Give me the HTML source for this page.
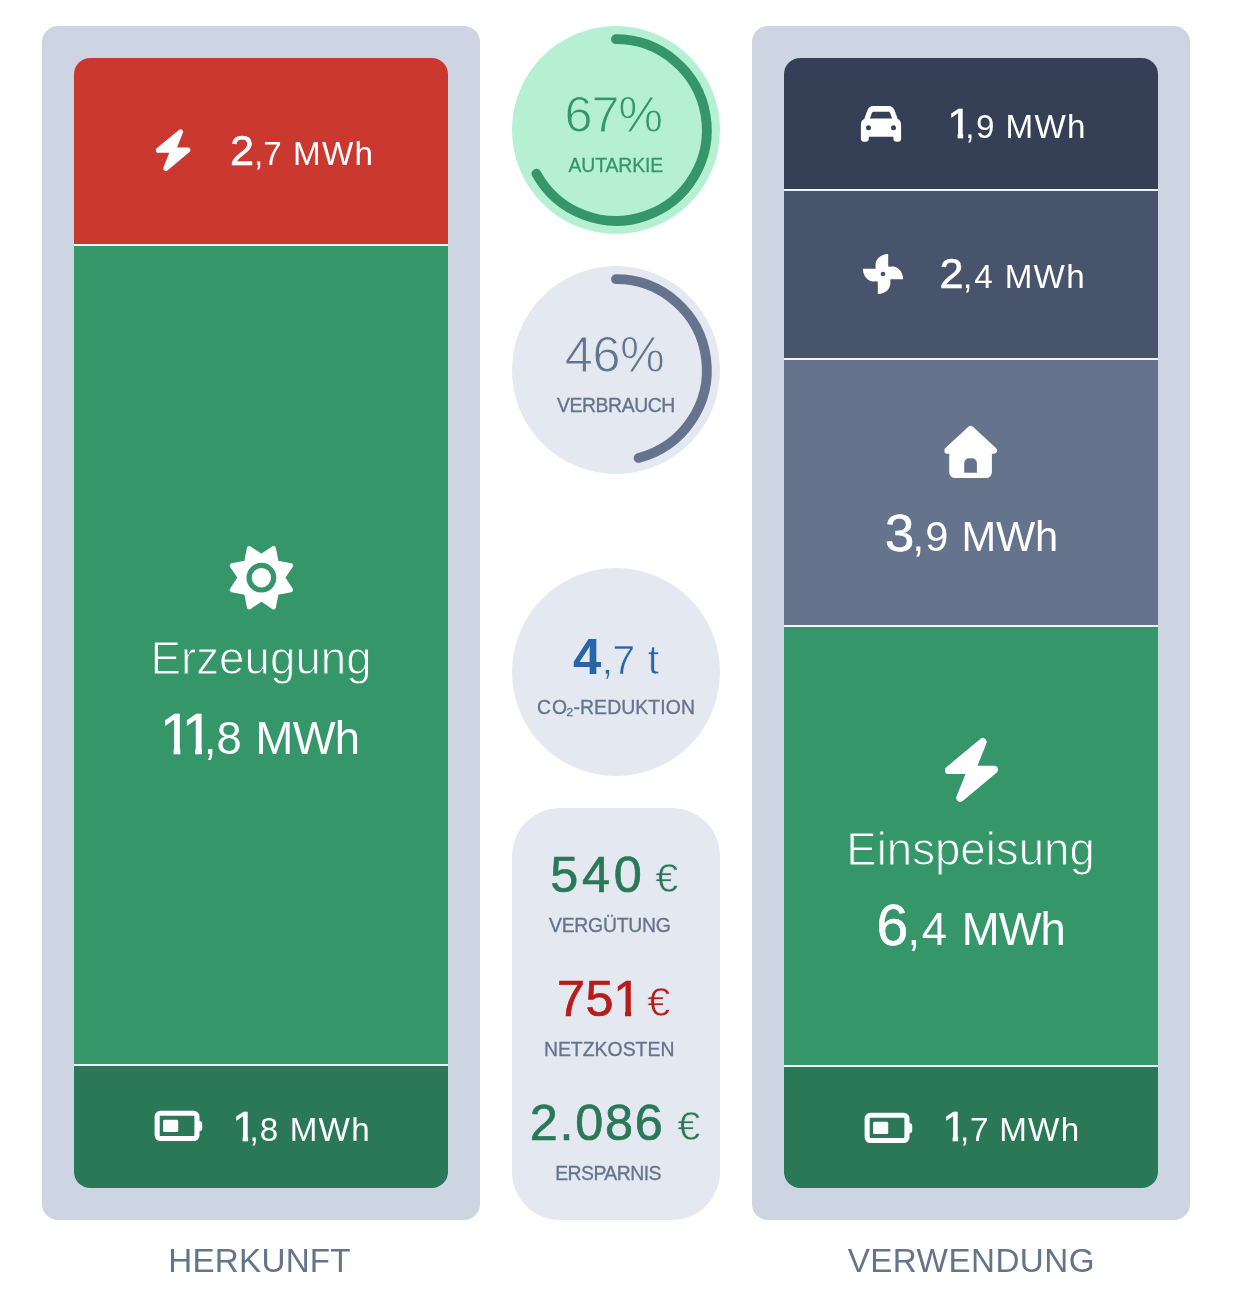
<!DOCTYPE html>
<html lang="de"><head><meta charset="utf-8"><title>Bilanz</title>
<style>
html,body{margin:0;padding:0;background:#fff}
body{position:relative;width:1236px;height:1302px;overflow:hidden;font-family:"Liberation Sans",sans-serif}
.panel,.bar,.seg,.circle,.box,.t,svg.ov{position:absolute}
.panel{background:#cdd5e3;border-radius:16px}
.bar{background:#f1f5fb;border-radius:16px;overflow:hidden}
.circle{border-radius:50%}
.t{line-height:1;white-space:pre;font-weight:400}
.big{-webkit-text-stroke:0.6px currentColor}.med{-webkit-text-stroke:0.7px currentColor}.cap{-webkit-text-stroke:0.3px currentColor}
.tg{-webkit-text-stroke:1px #359769}.tm{-webkit-text-stroke:1px #b5f0d3}.ts{-webkit-text-stroke:1px #e3e8f1}.tb{-webkit-text-stroke:0.6px #e3e8f1}.te{-webkit-text-stroke:0.7px #e3e8f1}
</style></head><body>
<div class="panel" style="left:42px;top:26px;width:438px;height:1194px"></div>
<div class="bar" style="left:74px;top:58px;width:374px;height:1130px">
<div class="seg" style="left:0px;top:0px;width:374px;height:186px;background:#cb3830;"></div>
<div class="seg" style="left:0px;top:188px;width:374px;height:818px;background:#359769;"></div>
<div class="seg" style="left:0px;top:1008px;width:374px;height:122px;background:#2b7858;"></div>
</div>
<div class="panel" style="left:752px;top:26px;width:438px;height:1194px"></div>
<div class="bar" style="left:784px;top:58px;width:374px;height:1130px">
<div class="seg" style="left:0px;top:0px;width:374px;height:131px;background:#354057;"></div>
<div class="seg" style="left:0px;top:133px;width:374px;height:167px;background:#48546c;"></div>
<div class="seg" style="left:0px;top:302px;width:374px;height:265px;background:#65738d;"></div>
<div class="seg" style="left:0px;top:569px;width:374px;height:438px;background:#359769;"></div>
<div class="seg" style="left:0px;top:1009px;width:374px;height:121px;background:#2b7858;"></div>
</div>
<div class="circle" style="left:512px;top:26px;width:208px;height:208px;background:#b5f0d3"></div>
<div class="circle" style="left:512px;top:266px;width:208px;height:208px;background:#e3e8f1"></div>
<div class="circle" style="left:512px;top:568px;width:208px;height:208px;background:#e3e8f1"></div>
<div class="box" style="left:512px;top:808px;width:208px;height:412px;border-radius:48px;background:#e3e8f1"></div>
<svg class="ov" style="left:0;top:0" width="1236" height="1302" viewBox="0 0 1236 1302" aria-hidden="true">
<path d="M616,39.2 A90.8,90.8 0 1 1 536.43,173.74" fill="none" stroke="#359769" stroke-width="9.8" stroke-linecap="round"/>
<path d="M616,279.2 A90.8,90.8 0 0 1 638.58,457.95" fill="none" stroke="#65738d" stroke-width="9.8" stroke-linecap="round"/>
<path d="M180.53,131.87 L173.28,150.02 L187.91,150.02 L165.77,168.43 L173.02,150.28 L158.39,150.28Z" fill="#fff" stroke="#fff" stroke-width="5.09" stroke-linejoin="round"/>
<path d="M290.65,589.82 L282.51,577.7 L290.65,565.58 L276.33,562.77 L273.52,548.45 L261.4,556.59 L249.28,548.45 L246.47,562.77 L232.15,565.58 L240.29,577.7 L232.15,589.82 L246.47,592.63 L249.28,606.95 L261.4,598.81 L273.52,606.95 L276.33,592.63Z" fill="#fff" stroke="#fff" stroke-width="4.8" stroke-linejoin="round"/><circle cx="261.4" cy="577.7" r="12.3" fill="none" stroke="#359769" stroke-width="5.2"/>
<rect x="157.15" y="1113.25" width="39.8" height="25.3" rx="3.2" fill="none" stroke="#fff" stroke-width="5.1"/><rect x="163" y="1119.8" width="15.2" height="12.3" rx="1.6" fill="#fff"/><path d="M198.6,1121h0.9a2.7,2.7 0 0 1 2.7,2.7v4.9a2.7,2.7 0 0 1 -2.7,2.7h-0.9z" fill="#fff"/>
<path d="M860.9,138.6 V124.6 C860.9,121.6 862.3,119.8 864.3,118.9 L867.3,110.6 C868.4,107.6 870.4,106.1 873.4,106.1 H888.6 C891.6,106.1 893.6,107.6 894.7,110.6 L897.7,118.9 C899.7,119.8 901.1,121.6 901.1,124.6 V138.6 a3.2,3.2 0 0 1 -3.2,3.2 h-1.3 a3.2,3.2 0 0 1 -3.2,-3.2 V136.7 H868.8 V138.6 a3.2,3.2 0 0 1 -3.2,3.2 h-1.5 a3.2,3.2 0 0 1 -3.2,-3.2Z" fill="#fff"/><path d="M869.9,118.6 L871.8,113.3 C872.2,112.3 872.8,111.8 873.8,111.8 H888.2 C889.2,111.8 889.8,112.3 890.2,113.3 L892.1,118.6Z" fill="#354057"/><circle cx="868.5" cy="127.7" r="2.5" fill="#354057"/><circle cx="893.5" cy="127.7" r="2.5" fill="#354057"/>
<g transform="translate(883,274)" fill="#fff"><path transform="rotate(0)" d="M5.2,-20.1 A12.7,11.04 0 0 0 -6.78,-5.4 L-6.78,7.4 L5.2,7.4Z"/><path transform="rotate(90)" d="M5.2,-20.1 A12.7,11.04 0 0 0 -6.78,-5.4 L-6.78,7.4 L5.2,7.4Z"/><path transform="rotate(180)" d="M5.2,-20.1 A12.7,11.04 0 0 0 -6.78,-5.4 L-6.78,7.4 L5.2,7.4Z"/><path transform="rotate(270)" d="M5.2,-20.1 A12.7,11.04 0 0 0 -6.78,-5.4 L-6.78,7.4 L5.2,7.4Z"/><circle r="2.3" fill="#48546c"/></g>
<path d="M947.7,450.4 L970.65,429.2 L993.6,450.4Z" fill="#fff" stroke="#fff" stroke-width="6.8" stroke-linejoin="round"/><path d="M949.2,446 H991.9 V472.3 a5.8,5.8 0 0 1 -5.8,5.8 H955 a5.8,5.8 0 0 1 -5.8,-5.8Z" fill="#fff"/><path d="M964.2,472.8 V463.3 a5,5 0 0 1 5,-5 h2.7 a5,5 0 0 1 5,5 V472.8Z" fill="#65738d"/>
<path d="M982.75,741.95 L971.65,769.75 L994.05,769.75 L960.15,797.95 L971.25,770.15 L948.85,770.15Z" fill="#fff" stroke="#fff" stroke-width="7.8" stroke-linejoin="round"/>
<rect x="867.15" y="1115.25" width="39.8" height="25.3" rx="3.2" fill="none" stroke="#fff" stroke-width="5.1"/><rect x="873" y="1121.8" width="15.2" height="12.3" rx="1.6" fill="#fff"/><path d="M908.6,1123h0.9a2.7,2.7 0 0 1 2.7,2.7v4.9a2.7,2.7 0 0 1 -2.7,2.7h-0.9z" fill="#fff"/>
</svg>
<section class="grp" id="herkunft">
<div class="ln"><span class="t big" style="left:230.06px;top:128.50px;font-size:43.3px;color:#fff;">2</span><span class="t sm" style="left:253.91px;top:136.50px;font-size:33.2px;color:#fff;letter-spacing:0.06px;">,7 </span><span class="t sm" style="left:293.08px;top:136.50px;font-size:33.2px;color:#fff;letter-spacing:1.21px;">MWh</span></div>
<div class="ln"><span class="t lt tg" style="left:150.46px;top:635.50px;font-size:45.6px;color:#fff;letter-spacing:0.08px;">Erzeugung</span></div>
<div class="ln"><span class="t big one" style="left:160.09px;top:706.20px;font-size:57.1px;color:#fff;clip-path:polygon(-2px -6px,20.26px -6px,20.26px 52.00px,13.51px 52.00px,13.51px 42.33px,-2px 42.33px);">1</span><span class="t big one" style="left:181.69px;top:706.20px;font-size:57.1px;color:#fff;clip-path:polygon(-2px -6px,20.26px -6px,20.26px 52.00px,13.51px 52.00px,13.51px 42.33px,-2px 42.33px);">1</span><span class="t sm" style="left:203.76px;top:716.20px;font-size:45.4px;color:#fff;letter-spacing:0.24px;">,8 </span><span class="t sm" style="left:255.58px;top:716.20px;font-size:45.4px;color:#fff;letter-spacing:-0.71px;">MWh</span></div>
<div class="ln"><span class="t big one" style="left:232.58px;top:1104.80px;font-size:43.3px;color:#fff;clip-path:polygon(-2px -6px,15.57px -6px,15.57px 40.00px,10.04px 40.00px,10.04px 31.37px,-2px 31.37px);">1</span><span class="t sm" style="left:249.41px;top:1112.80px;font-size:33.2px;color:#fff;letter-spacing:1.08px;">,8 </span><span class="t sm" style="left:289.78px;top:1112.80px;font-size:33.2px;color:#fff;letter-spacing:1.21px;">MWh</span></div>
<div class="ln"><span class="t lab" style="left:168.28px;top:1243.70px;font-size:33.2px;color:#64748b;letter-spacing:0.24px;">HERKUNFT</span></div>
</section>
<section class="grp" id="kennzahlen">
<div class="ln"><span class="t lt tm" style="left:564.62px;top:90.00px;font-size:50.4px;color:#359769;letter-spacing:-1.15px;">67%</span></div>
<div class="ln"><span class="t cap" style="left:568.55px;top:155.70px;font-size:19.4px;color:#359769;letter-spacing:-0.13px;">AUTARKIE</span></div>
<div class="ln"><span class="t lt ts" style="left:564.82px;top:330.00px;font-size:50.4px;color:#64748b;letter-spacing:-0.40px;">46%</span></div>
<div class="ln"><span class="t cap" style="left:556.91px;top:395.70px;font-size:19.4px;color:#64748b;letter-spacing:-0.41px;">VERBRAUCH</span></div>
<div class="ln"><span class="t bold" style="left:573.04px;top:632.20px;font-size:50.8px;color:#2565a8;font-weight:700;">4</span><span class="t sm tb" style="left:601.74px;top:640.20px;font-size:40.6px;color:#2565a8;letter-spacing:-0.50px;">,7 </span><span class="t sm tb" style="left:647.75px;top:640.20px;font-size:40.6px;color:#2565a8;">t</span></div>
<div class="ln"><span class="t cap" style="left:536.96px;top:697.90px;font-size:19.4px;color:#64748b;letter-spacing:0.93px;">CO</span><span class="t cap" style="left:566.00px;top:697.90px;font-size:19.4px;color:#64748b;">₂</span><span class="t cap" style="left:573.44px;top:697.90px;font-size:19.4px;color:#64748b;letter-spacing:0.10px;">-REDUKTION</span></div>
<div class="ln"><span class="t med" style="left:550.18px;top:850.00px;font-size:50.4px;color:#2b7858;letter-spacing:3.74px;">540 </span><span class="t lt te" style="left:655.34px;top:857.00px;font-size:41.5px;color:#2b7858;">€</span></div>
<div class="ln"><span class="t cap" style="left:549.01px;top:915.70px;font-size:19.4px;color:#64748b;letter-spacing:-0.26px;">VERGÜTUNG</span></div>
<div class="ln"><span class="t med" style="left:557.12px;top:974.00px;font-size:50.4px;color:#b51c1a;letter-spacing:0.33px;">75</span><span class="t med one" style="left:613.17px;top:974.00px;font-size:50.4px;color:#b51c1a;clip-path:polygon(-2px -6px,17.98px -6px,17.98px 46.00px,11.82px 46.00px,11.82px 36.83px,-2px 36.83px);">1 </span><span class="t lt te" style="left:647.34px;top:981.00px;font-size:41.5px;color:#b51c1a;">€</span></div>
<div class="ln"><span class="t cap" style="left:543.90px;top:1039.70px;font-size:19.4px;color:#64748b;letter-spacing:0.02px;">NETZKOSTEN</span></div>
<div class="ln"><span class="t med" style="left:529.66px;top:1098.00px;font-size:50.4px;color:#2b7858;letter-spacing:1.77px;">2.086 </span><span class="t lt te" style="left:677.34px;top:1105.00px;font-size:41.5px;color:#2b7858;">€</span></div>
<div class="ln"><span class="t cap" style="left:555.20px;top:1163.70px;font-size:19.4px;color:#64748b;letter-spacing:-0.55px;">ERSPARNIS</span></div>
</section>
<section class="grp" id="verwendung">
<div class="ln"><span class="t big one" style="left:947.58px;top:102.00px;font-size:43.3px;color:#fff;clip-path:polygon(-2px -6px,15.57px -6px,15.57px 40.00px,10.04px 40.00px,10.04px 31.37px,-2px 31.37px);">1</span><span class="t sm" style="left:965.21px;top:110.00px;font-size:33.2px;color:#fff;letter-spacing:1.70px;">,9 </span><span class="t sm" style="left:1005.58px;top:110.00px;font-size:33.2px;color:#fff;letter-spacing:1.21px;">MWh</span></div>
<div class="ln"><span class="t big" style="left:939.46px;top:252.00px;font-size:43.3px;color:#fff;">2</span><span class="t sm" style="left:963.11px;top:260.00px;font-size:33.2px;color:#fff;letter-spacing:1.88px;">,4 </span><span class="t sm" style="left:1004.78px;top:260.00px;font-size:33.2px;color:#fff;letter-spacing:1.21px;">MWh</span></div>
<div class="ln"><span class="t big" style="left:884.92px;top:506.80px;font-size:52.7px;color:#fff;">3</span><span class="t sm" style="left:912.44px;top:515.80px;font-size:41.6px;color:#fff;letter-spacing:1.25px;">,9 </span><span class="t sm" style="left:961.58px;top:515.80px;font-size:41.6px;color:#fff;letter-spacing:-0.26px;">MWh</span></div>
<div class="ln"><span class="t lt tg" style="left:846.26px;top:826.70px;font-size:45.6px;color:#fff;letter-spacing:0.01px;">Einspeisung</span></div>
<div class="ln"><span class="t big" style="left:876.47px;top:897.00px;font-size:57.1px;color:#fff;">6</span><span class="t sm" style="left:907.46px;top:907.00px;font-size:45.4px;color:#fff;letter-spacing:1.62px;">,4 </span><span class="t sm" style="left:961.78px;top:907.00px;font-size:45.4px;color:#fff;letter-spacing:-0.91px;">MWh</span></div>
<div class="ln"><span class="t big one" style="left:942.58px;top:1104.80px;font-size:43.3px;color:#fff;clip-path:polygon(-2px -6px,15.57px -6px,15.57px 40.00px,10.04px 40.00px,10.04px 31.37px,-2px 31.37px);">1</span><span class="t sm" style="left:959.91px;top:1112.80px;font-size:33.2px;color:#fff;letter-spacing:0.76px;">,7 </span><span class="t sm" style="left:999.28px;top:1112.80px;font-size:33.2px;color:#fff;letter-spacing:1.21px;">MWh</span></div>
<div class="ln"><span class="t lab" style="left:847.64px;top:1243.75px;font-size:33.2px;color:#64748b;letter-spacing:0.45px;">VERWENDUNG</span></div>
</section>
</body></html>
